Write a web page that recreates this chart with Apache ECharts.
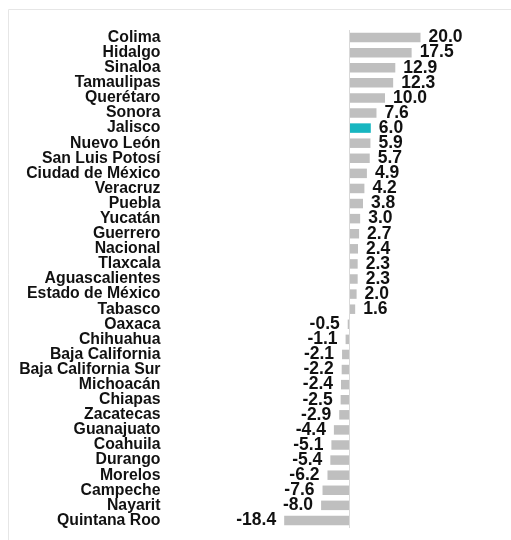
<!DOCTYPE html>
<html><head><meta charset="utf-8">
<script src="https://cdn.jsdelivr.net/npm/echarts@6/dist/echarts.min.js"></script>
<style>html,body{margin:0;padding:0;background:#fff}#c{width:511px;height:540px}</style>
</head><body><div id="c"></div>
<script>
const categories = ["Colima","Hidalgo","Sinaloa","Tamaulipas","Querétaro","Sonora","Jalisco","Nuevo León","San Luis Potosí","Ciudad de México","Veracruz","Puebla","Yucatán","Guerrero","Nacional","Tlaxcala","Aguascalientes","Estado de México","Tabasco","Oaxaca","Chihuahua","Baja California","Baja California Sur","Michoacán","Chiapas","Zacatecas","Guanajuato","Coahuila","Durango","Morelos","Campeche","Nayarit","Quintana Roo"];
const values = [20.0,17.5,12.9,12.3,10.0,7.6,6.0,5.9,5.7,4.9,4.2,3.8,3.0,2.7,2.4,2.3,2.3,2.0,1.6,-0.5,-1.1,-2.1,-2.2,-2.4,-2.5,-2.9,-4.4,-5.1,-5.4,-6.2,-7.6,-8.0,-18.4];
const highlight = "Jalisco";

const gray = "#bfbfbf", teal = "#17b6c0";
const chart = echarts.init(document.getElementById('c'), null, {renderer:'canvas'});
const data = values.map((v,i)=>({
  value: v,
  itemStyle: {color: categories[i]===highlight ? teal : gray},
  label: {position: v<0 ? 'left' : 'right'}
}));
chart.setOption({
  animation:false,
  backgroundColor:'#fff',
  grid:{left:278.5, width:142, top:30, height:498, containLabel:false},
  xAxis:{type:'value', min:-20, max:20, show:false},
  yAxis:{type:'category', data:categories, inverse:true,
    axisLine:{show:false}, axisTick:{show:false},
    axisLabel:{margin:118, color:'#111', fontFamily:'Liberation Sans, Arial', fontWeight:'bold', fontSize:15.8, interval:0}
  },
  series:[{
    type:'bar', data:data, barWidth:9.5,
    label:{show:true, distance:8, color:'#111', fontFamily:'Liberation Sans, Arial', fontWeight:'bold', fontSize:17.5,
      formatter:p=>p.value.toFixed(1)},
    markLine:{silent:true, symbol:['none','none'], label:{show:false},
      lineStyle:{color:'#d9d9d9', width:1, type:'solid'}, data:[{xAxis:0}]}
  }],
  graphic:[
    {type:'line', shape:{x1:8.5,y1:9.5,x2:511,y2:9.5}, style:{stroke:'#e6e6e6', lineWidth:1}},
    {type:'line', shape:{x1:8.5,y1:9.5,x2:8.5,y2:540}, style:{stroke:'#e6e6e6', lineWidth:1}}
  ]
});
</script></body></html>
